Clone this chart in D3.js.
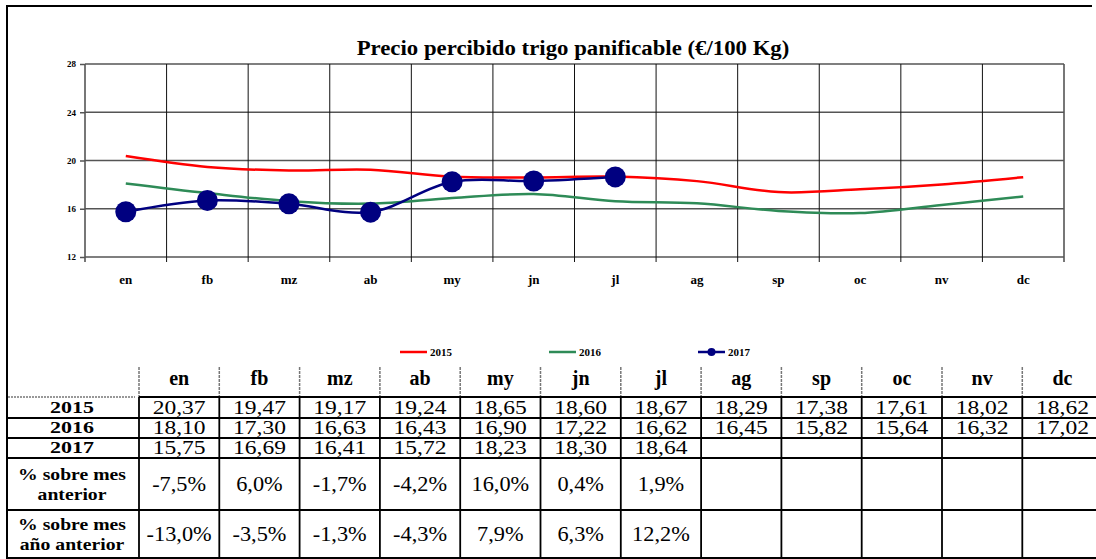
<!DOCTYPE html>
<html>
<head>
<meta charset="utf-8">
<script src="https://cdn.jsdelivr.net/npm/d3@7"></script>
<style>
  html, body { margin: 0; padding: 0; background: #fff; }
  svg text { font-family: "Liberation Serif", "Times New Roman", serif; }
</style>
</head>
<body>
<svg id="chart" width="1096" height="559"></svg>
<script>
// Monthly prices (€/100 kg) of bread wheat
const months = ["en", "fb", "mz", "ab", "my", "jn", "jl", "ag", "sp", "oc", "nv", "dc"];
const years = ["2015", "2016", "2017"];
const v2015 = [20.37, 19.47, 19.17, 19.24, 18.65, 18.60, 18.67, 18.29, 17.38, 17.61, 18.02, 18.62];
const v2016 = [18.10, 17.30, 16.63, 16.43, 16.90, 17.22, 16.62, 16.45, 15.82, 15.64, 16.32, 17.02];
const v2017 = [15.75, 16.69, 16.41, 15.72, 18.23, 18.30, 18.64];
const pctMesAnterior = [-7.5, 6.0, -1.7, -4.2, 16.0, 0.4, 1.9];
const pctAnoAnterior = [-13.0, -3.5, -1.3, -4.3, 7.9, 6.3, 12.2];
const yTicks = [12, 16, 20, 24, 28];
const title = "Precio percibido trigo panificable (€/100 Kg)";
const seriesColors = ["#ff0000", "#2e8b57", "#000080"];

const svg = d3.select("#chart");
const fmt2 = d => d.toFixed(2).replace(".", ",");
const fmtPct = d => d.toFixed(1).replace(".", ",") + "%";

// Stretch a text selection horizontally (about its anchor x) so that a sample
// string set in the same style would span `target` pixels.
function widen(sel, sample, target) {
  const probe = svg.append("text").attr("font-size", sel.attr("font-size"))
    .attr("font-weight", sel.attr("font-weight")).text(sample);
  const s = target / probe.node().getComputedTextLength();
  probe.remove();
  sel.attr("transform", function () {
    const ax = +d3.select(this).attr("x");
    return `translate(${ax},0) scale(${s},1) translate(${-ax},0)`;
  });
}

// ---- outer frame ----
svg.append("line").attr("x1", 7).attr("x2", 1092).attr("y1", 6).attr("y2", 6)
  .attr("stroke", "#000").attr("stroke-width", 2);
svg.append("line").attr("x1", 7).attr("x2", 7).attr("y1", 5).attr("y2", 559)
  .attr("stroke", "#000").attr("stroke-width", 2);

// ---- chart ----
const plot = { left: 85, right: 1064, top: 64, bottom: 257 };
const x = d3.scaleBand().domain(months).range([plot.left, plot.right]);
const y = d3.scaleLinear().domain([12, 28]).range([plot.bottom, plot.top]);
const cx = m => x(m) + x.bandwidth() / 2;

const titleText = svg.append("text")
  .attr("x", 573).attr("y", 55)
  .attr("text-anchor", "middle")
  .attr("font-weight", "bold").attr("font-size", 21)
  .text(title);
widen(titleText, title, 433);

const grid = svg.append("g");
grid.selectAll("line.h").data(yTicks).join("line")
  .attr("x1", plot.left).attr("x2", plot.right)
  .attr("y1", d => y(d)).attr("y2", d => y(d))
  .attr("stroke", "#555").attr("stroke-width", 1.6);
const bounds = months.map(m => x(m)).concat([plot.right]);
grid.selectAll("line.v").data(bounds).join("line")
  .attr("x1", d => d).attr("x2", d => d)
  .attr("y1", plot.top).attr("y2", plot.bottom + 5)
  .attr("stroke", (d, i) => i === 0 || i === bounds.length - 1 ? "#555" : "#111")
  .attr("stroke-width", (d, i) => i === 0 || i === bounds.length - 1 ? 1.6 : 1);

const yAxis = d3.axisLeft(y).tickValues(yTicks).tickSize(5).tickPadding(4);
const gy = svg.append("g").attr("transform", `translate(${plot.left},0)`).call(yAxis);
gy.attr("font-family", null);
gy.select(".domain").remove();
gy.selectAll(".tick line").attr("stroke", "#555").attr("stroke-width", 1.5);
gy.selectAll(".tick text").attr("font-weight", "bold").attr("font-size", 9).attr("fill", "#000");

svg.append("g").selectAll("text").data(months).join("text")
  .attr("x", d => cx(d)).attr("y", 284)
  .attr("text-anchor", "middle").attr("font-weight", "bold").attr("font-size", 13)
  .text(d => d);

const line = d3.line().x((d, i) => cx(months[i])).y(d => y(d)).curve(d3.curveCatmullRom.alpha(0.5));
[v2015, v2016, v2017].forEach((vals, k) => {
  svg.append("path").datum(vals)
    .attr("fill", "none").attr("stroke", seriesColors[k]).attr("stroke-width", 2.5)
    .attr("d", line);
});
svg.append("g").selectAll("circle").data(v2017).join("circle")
  .attr("cx", (d, i) => cx(months[i])).attr("cy", d => y(d)).attr("r", 10.5)
  .attr("fill", seriesColors[2]);

// legend
const legendX = [400, 549, 698];
const lg = svg.append("g").selectAll("g").data(years).join("g")
  .attr("transform", (d, i) => `translate(${legendX[i]},352)`);
lg.append("line").attr("x1", 0).attr("x2", 27).attr("y1", 0).attr("y2", 0)
  .attr("stroke", (d, i) => seriesColors[i]).attr("stroke-width", 2.5);
lg.filter((d, i) => i === 2).append("circle").attr("cx", 13.5).attr("cy", 0).attr("r", 4)
  .attr("fill", seriesColors[2]);
lg.append("text").attr("x", 30).attr("y", 4)
  .attr("font-weight", "bold").attr("font-size", 11)
  .text(d => d);

// ---- table ----
const colX0 = 139, colW = 80.3;
const tableRight = 1096;
const colLeft = i => colX0 + i * colW;
const colMid = i => colLeft(i) + colW / 2;
const rowEdges = [367, 397, 418, 438, 458, 510, 558];
const labelX = 72;
const tbl = svg.append("g");

tbl.selectAll("text.hdr").data(months).join("text")
  .attr("x", (d, i) => colMid(i)).attr("y", 385)
  .attr("text-anchor", "middle").attr("font-weight", "bold").attr("font-size", 20)
  .text(d => d);
tbl.selectAll("line.hs").data(d3.range(12)).join("line")
  .attr("x1", i => colLeft(i)).attr("x2", i => colLeft(i))
  .attr("y1", rowEdges[0]).attr("y2", rowEdges[1])
  .attr("stroke", "#777").attr("stroke-width", 1.5).attr("stroke-dasharray", "3,1");
tbl.append("line").attr("x1", 8).attr("x2", 135).attr("y1", rowEdges[1]).attr("y2", rowEdges[1])
  .attr("stroke", "#777").attr("stroke-width", 1.5).attr("stroke-dasharray", "2,1");
tbl.append("line").attr("x1", colX0).attr("x2", tableRight).attr("y1", rowEdges[1]).attr("y2", rowEdges[1])
  .attr("stroke", "#000").attr("stroke-width", 1.8);
tbl.selectAll("line.hr").data(rowEdges.slice(2)).join("line")
  .attr("x1", 7).attr("x2", tableRight).attr("y1", d => d).attr("y2", d => d)
  .attr("stroke", "#000").attr("stroke-width", 1.8);
tbl.selectAll("line.vr").data(d3.range(12)).join("line")
  .attr("x1", i => colLeft(i)).attr("x2", i => colLeft(i))
  .attr("y1", rowEdges[1]).attr("y2", rowEdges[6])
  .attr("stroke", "#000").attr("stroke-width", 1.8);

const valueRows = [v2015, v2016, v2017];
valueRows.forEach((vals, r) => {
  const yMid = (rowEdges[r + 1] + rowEdges[r + 2]) / 2;
  const lab = tbl.append("text").attr("x", labelX).attr("y", yMid + 5.5)
    .attr("text-anchor", "middle").attr("font-weight", "bold").attr("font-size", 16)
    .text(years[r]);
  widen(lab, "2015", 44);
  const nums = tbl.append("g").selectAll("text").data(vals).join("text")
    .attr("x", (d, i) => colMid(i)).attr("y", yMid + 6.5)
    .attr("text-anchor", "middle").attr("font-size", 18.5)
    .text(fmt2);
  widen(nums, "20,37", 53);
});

const pctRows = [
  { label: ["% sobre mes", "anterior"], vals: pctMesAnterior },
  { label: ["% sobre mes", "año anterior"], vals: pctAnoAnterior }
];
pctRows.forEach((row, r) => {
  const top = rowEdges[4 + r], bot = rowEdges[5 + r];
  const yMid = (top + bot) / 2;
  const t = tbl.append("text").attr("x", labelX).attr("text-anchor", "middle")
    .attr("font-weight", "bold").attr("font-size", 17);
  t.append("tspan").attr("x", labelX).attr("y", yMid - 4).text(row.label[0]);
  t.append("tspan").attr("x", labelX).attr("y", yMid + 16).text(row.label[1]);
  widen(t, "% sobre mes", 108);
  const vals = tbl.append("g").selectAll("text").data(row.vals).join("text")
    .attr("x", (d, i) => colMid(i)).attr("y", yMid + 7)
    .attr("text-anchor", "middle").attr("font-size", 20)
    .text(fmtPct);
  widen(vals, "-7,5%", 54);
});
</script>
</body>
</html>
